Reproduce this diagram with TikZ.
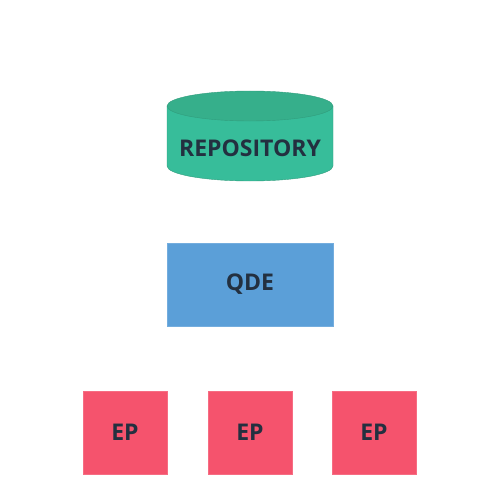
\documentclass[tikz,border=0pt]{standalone}
\usepackage{fontspec}
\setmainfont{Open Sans}
\definecolor{txt}{HTML}{233040}
\definecolor{repobody}{HTML}{37BD9A}
\definecolor{repotop}{HTML}{36AF8B}
\definecolor{qde}{HTML}{5B9FD8}
\definecolor{ep}{HTML}{F5536D}
\begin{document}
\begin{tikzpicture}[x=1pt,y=-1pt,
  lbl/.style={text=txt,font=\fontsize{23}{26}\selectfont\bfseries,inner sep=0pt},
  box/.style={minimum width=83.5pt,minimum height=82.5pt,inner sep=0pt,draw=#1!85!white,line width=0.5pt,fill=#1}]
\useasboundingbox (0,0) rectangle (500,500);
% repository cylinder
\fill[repobody,draw=repotop!90!black,line width=0.4pt] (167,106) -- (167,166) arc[start angle=180,end angle=0,x radius=83,y radius=15] -- (333,106) -- cycle;
\fill[repotop,draw=repotop!90!black,line width=0.4pt] (250,106) ellipse[x radius=83,y radius=15];
\node[lbl] (repo) at (250,148) {REPOSITORY};
\node[box=qde,minimum width=165.5pt] (qdebox) at (250,284.5) {};
\node[lbl] (qde) at (qdebox) {QDE};
\node[box=ep] (ep1) at (125,432.5) {};
\node[lbl] at (ep1) {EP};
\node[box=ep] (ep2) at (250,432.5) {};
\node[lbl] at (ep2) {EP};
\node[box=ep] (ep3) at (374,432.5) {};
\node[lbl] at (ep3) {EP};
\end{tikzpicture}
\end{document}
